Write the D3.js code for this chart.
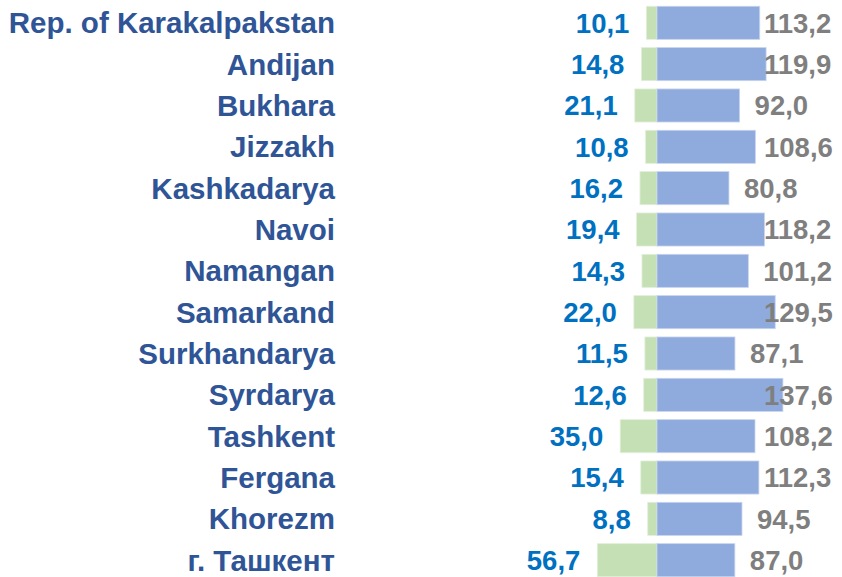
<!DOCTYPE html>
<html>
<head>
<meta charset="utf-8">
<script src="https://cdn.jsdelivr.net/npm/d3@7"></script>
<style>
    body { margin: 0; background: #ffffff; }
    #chart { width: 842px; height: 577px; }
</style>
</head>
<body>
<div id="chart"></div>
<script>
const regions = [
    "Rep. of Karakalpakstan", "Andijan", "Bukhara", "Jizzakh", "Kashkadarya",
    "Navoi", "Namangan", "Samarkand", "Surkhandarya", "Syrdarya",
    "Tashkent", "Fergana", "Khorezm", "г. Ташкент"
];
const greenValues = [10.1, 14.8, 21.1, 10.8, 16.2, 19.4, 14.3, 22.0, 11.5, 12.6, 35.0, 15.4, 8.8, 56.7];
const blueValues = [113.2, 119.9, 92.0, 108.6, 80.8, 118.2, 101.2, 129.5, 87.1, 137.6, 108.2, 112.3, 94.5, 87.0];

const width = 842, height = 577;
const center = 657;
const fmt = v => v.toFixed(1).replace(".", ",");

const svg = d3.select("#chart").append("svg")
    .attr("width", width)
    .attr("height", height)
    .style("font-family", "'Liberation Sans', Arial, sans-serif")
    .style("font-weight", "bold");

const y = d3.scaleBand()
    .domain(regions)
    .range([-2, 585])
    .padding(0.2);

// two sides use their own scale (as in the source chart)
const xNeg = d3.scaleLinear().domain([0, 60]).range([center, center - 63.1]);
const xPos = d3.scaleLinear().domain([0, 140]).range([center - 4.8, center - 4.8 + 133]);

const rows = regions.map((r, i) => ({ region: r, green: greenValues[i], blue: blueValues[i] }));

// green bars (left)
svg.append("g").selectAll("rect")
    .data(rows)
    .join("rect")
    .attr("x", d => xNeg(d.green))
    .attr("y", d => y(d.region))
    .attr("width", d => center - xNeg(d.green))
    .attr("height", y.bandwidth())
    .attr("fill", "#c5e0b4")
    .attr("stroke", "#e2efda")
    .attr("stroke-width", 0.8);

// blue bars (right)
svg.append("g").selectAll("rect")
    .data(rows)
    .join("rect")
    .attr("x", center)
    .attr("y", d => y(d.region))
    .attr("width", d => xPos(d.blue) - center)
    .attr("height", y.bandwidth())
    .attr("fill", "#8faadc")
    .attr("stroke", "#c7d5ee")
    .attr("stroke-width", 0.8);

// category labels
svg.append("g").selectAll("text")
    .data(rows)
    .join("text")
    .attr("x", 335)
    .attr("y", d => y(d.region) + y.bandwidth() / 2)
    .attr("dy", "0.36em")
    .attr("text-anchor", "end")
    .attr("fill", "#2f5597")
    .attr("font-size", "29.5px")
    .text(d => d.region);

// left value labels
svg.append("g").selectAll("text")
    .data(rows)
    .join("text")
    .attr("x", d => xNeg(d.green) - 17)
    .attr("y", d => y(d.region) + y.bandwidth() / 2)
    .attr("dy", "0.36em")
    .attr("text-anchor", "end")
    .attr("fill", "#0070c0")
    .attr("font-size", "27.5px")
    .text(d => fmt(d.green));

// right value labels
svg.append("g").selectAll("text")
    .data(rows)
    .join("text")
    .attr("x", d => Math.min(xPos(d.blue) + 15, 764))
    .attr("y", d => y(d.region) + y.bandwidth() / 2)
    .attr("dy", "0.36em")
    .attr("text-anchor", "start")
    .attr("fill", "#7f7f7f")
    .attr("font-size", "27.5px")
    .text(d => fmt(d.blue));
</script>
</body>
</html>
